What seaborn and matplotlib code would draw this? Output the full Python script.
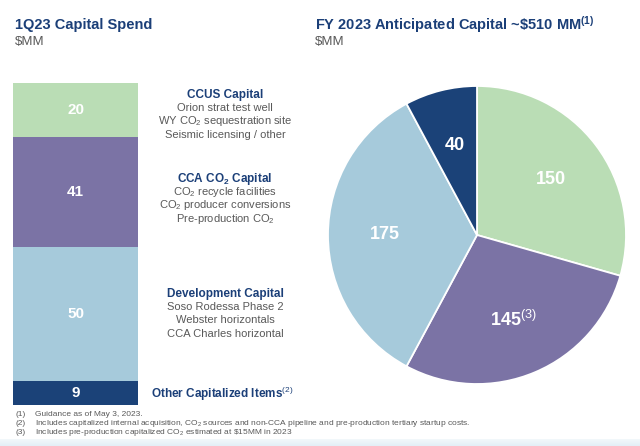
import matplotlib
matplotlib.use("Agg")
import matplotlib.pyplot as plt
import seaborn as sns
import numpy as np
import pandas as pd

# ---- data ----
bar_categories = ["Other Capitalized Items", "Development Capital", "CCA CO2 Capital", "CCUS Capital"]
bar_values = [9, 50, 41, 20]
pie_categories = ["CCUS Capital", "CCA CO2 Capital", "Development Capital", "Other Capitalized Items"]
pie_values = [150, 145, 175, 40]
pie_labels = ["150", "145$^{\\mathrm{(3)}}$", "175", "40"]

left_title = "1Q23 Capital Spend"
right_title = "FY 2023 Anticipated Capital ~\\$510 MM$^{\\mathbf{(1)}}$"
unit = "$MM"

footnotes = [
    ("(1)", "Guidance as of May 3, 2023."),
    ("(2)", "Includes capitalized internal acquisition, CO$_2$ sources and non-CCA pipeline and pre-production tertiary startup costs."),
    ("(3)", "Includes pre-production capitalized CO$_2$ estimated at \\$15MM in 2023"),
]

# ---- style ----
sns.set_theme(style="white")
plt.rcParams["font.family"] = ["Liberation Sans", "DejaVu Sans"]
plt.rcParams["mathtext.fontset"] = "custom"
plt.rcParams["mathtext.rm"] = "Liberation Sans"
plt.rcParams["mathtext.bf"] = "Liberation Sans:bold"
plt.rcParams["mathtext.it"] = "Liberation Sans:italic"

NAVY_T = "#1B3F78"
GRAY = "#595959"
seg_colors = {"CCUS Capital": "#BADDB5",
              "CCA CO2 Capital": "#7B73A5",
              "Development Capital": "#A6CADB",
              "Other Capitalized Items": "#1B4278"}

W, H = 640, 446
fig = plt.figure(figsize=(W / 100, H / 100), dpi=100)
fig.patch.set_facecolor("white")

def fx(x):
    return x / W

def fy(y):
    return 1 - y / H

# ---- stacked bar (drawn as cumulative layers with seaborn) ----
axb = fig.add_axes([fx(13), fy(405), fx(138) - fx(13), fy(83) - fy(405)])
cum = np.cumsum(bar_values)
order = list(range(len(bar_values)))[::-1]
for i in order:
    df = pd.DataFrame({"x": ["a"], "y": [cum[i]]})
    sns.barplot(data=df, x="x", y="y", color=seg_colors[bar_categories[i]],
                saturation=1, width=1.0, ax=axb, linewidth=0)
axb.set_xlim(-0.5, 0.5)
axb.set_ylim(0, cum[-1])
axb.axis("off")
for i, v in enumerate(bar_values):
    axb.text(0, cum[i] - v / 2, str(v), ha="center", va="center", color="white",
             fontsize=11, fontweight="bold")

# ---- category descriptions ----
blocks = [
    (95, "CCUS Capital", ["Orion strat test well", "WY CO$_2$ sequestration site", "Seismic licensing / other"]),
    (179, "CCA CO$_\\mathbf{2}$ Capital", ["CO$_2$ recycle facilities", "CO$_2$ producer conversions", "Pre-production CO$_2$"]),
    (294, "Development Capital", ["Soso Rodessa Phase 2", "Webster horizontals", "CCA Charles horizontal"]),
]
cx = 225
for y0, head, lines in blocks:
    fig.text(fx(cx), fy(y0), head, ha="center", va="center", color=NAVY_T,
             fontsize=8.5, fontweight="bold")
    for k, ln in enumerate(lines):
        fig.text(fx(cx), fy(y0 + 13.2 * (k + 1)), ln, ha="center", va="center",
                 color=GRAY, fontsize=8)
fig.text(fx(222), fy(394), "Other Capitalized Items$^{\\mathrm{(2)}}$", ha="center", va="center",
         color=NAVY_T, fontsize=8.5, fontweight="bold")

# ---- titles ----
fig.text(fx(15), fy(25), left_title, ha="left", va="center", color=NAVY_T,
         fontsize=10.5, fontweight="bold")
fig.text(fx(15), fy(42), unit, ha="left", va="center", color=GRAY, fontsize=9.5)
fig.text(fx(315), fy(25), right_title, ha="left", va="center", color=NAVY_T,
         fontsize=10.5, fontweight="bold")
fig.text(fx(315), fy(42), unit, ha="left", va="center", color=GRAY, fontsize=9.5)

# ---- pie ----
R = 149
axp = fig.add_axes([fx(477 - R), fy(235 + R), 2 * R / W, 2 * R / H])
wedges, _ = axp.pie(pie_values, colors=[seg_colors[c] for c in pie_categories],
                    startangle=90, counterclock=False, radius=1.0,
                    wedgeprops=dict(edgecolor="white", linewidth=1.3))
axp.set_xlim(-1, 1)
axp.set_ylim(-1, 1)
axp.set_aspect("equal")
axp.axis("off")
for w, lab in zip(wedges, pie_labels):
    ang = np.deg2rad((w.theta1 + w.theta2) / 2)
    r = 0.62
    axp.text(r * np.cos(ang), r * np.sin(ang), lab, ha="center", va="center",
             color="white", fontsize=13, fontweight="bold")

# ---- footnotes ----
for k, (num, txt) in enumerate(footnotes):
    y = 415 + 8.7 * k
    fig.text(fx(16), fy(y), num, ha="left", va="center", color=GRAY, fontsize=6.0)
    fig.text(fx(35), fy(y), txt, ha="left", va="center", color=GRAY, fontsize=6.0)

# ---- bottom band ----
axg = fig.add_axes([0, 0, 1, 7 / H])
grad = np.linspace(0, 1, 50).reshape(-1, 1)
axg.imshow(grad, aspect="auto", cmap=matplotlib.colors.LinearSegmentedColormap.from_list(
    "g", ["#F3F8FB", "#E3EFF6"]), extent=[0, 1, 0, 1])
axg.axis("off")

fig.savefig("out.png", dpi=100, facecolor="white")
